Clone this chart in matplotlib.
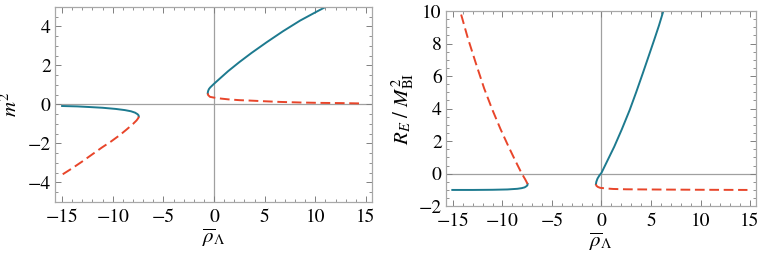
import matplotlib
matplotlib.use("Agg")
import matplotlib.pyplot as plt
from matplotlib.ticker import MultipleLocator

plt.rcParams['font.family'] = ['STIXGeneral', 'DejaVu Serif']
plt.rcParams['mathtext.fontset'] = 'stix'

teal = '#1d7a8f'
red = '#e8452a'
grey = '#a0a0a0'

# left panel: m^2 against rho_bar
m2_right_solid_x = [-0.62, -0.61, -0.57, -0.5, -0.38, -0.2, 0.0, 0.3, 0.6, 1.4, 2.5, 3.7, 5.2, 6.8, 8.5, 10.0, 11.2]
m2_right_solid_y = [0.57, 0.63, 0.71, 0.79, 0.87, 0.96, 1.06, 1.2, 1.34, 1.71, 2.17, 2.64, 3.19, 3.75, 4.3, 4.72, 5.05]
m2_right_dash_x = [-0.62, -0.58, -0.4, 0.0, 0.7, 1.42, 2.5, 3.5, 4.7, 6.5, 8.5, 10.5, 12.5, 14.7]
m2_right_dash_y = [0.57, 0.48, 0.39, 0.35, 0.3, 0.26, 0.22, 0.2, 0.17, 0.13, 0.1, 0.08, 0.07, 0.05]
m2_left_solid_x = [-15.0, -13.5, -12.4, -11.0, -9.7, -8.8, -8.2, -7.8, -7.55, -7.45, -7.43]
m2_left_solid_y = [-0.08, -0.1, -0.13, -0.17, -0.23, -0.29, -0.35, -0.42, -0.5, -0.56, -0.62]
m2_left_dash_x = [-7.43, -7.48, -7.65, -8.0, -8.6, -9.3, -10.2, -11.05, -12.0, -13.0, -14.0, -15.0]
m2_left_dash_y = [-0.62, -0.7, -0.82, -1.0, -1.27, -1.57, -1.91, -2.2, -2.55, -2.92, -3.27, -3.6]

# right panel: R_E / M_BI^2 against rho_bar
re_right_solid_x = [-0.56, -0.52, -0.4, -0.2, 0.0, 0.6, 1.29, 2.05, 2.84, 3.5, 4.16, 4.75, 5.32, 5.8, 6.25]
re_right_solid_y = [-0.65, -0.5, -0.3, -0.1, 0.05, 0.8, 1.66, 2.72, 3.9, 5.0, 6.15, 7.2, 8.22, 9.1, 10.0]
re_right_dash_x = [-0.56, -0.5, -0.35, -0.13, 0.5, 1.19, 2.5, 4.5, 7.0, 10.0, 12.5, 14.74]
re_right_dash_y = [-0.65, -0.75, -0.82, -0.87, -0.91, -0.94, -0.96, -0.97, -0.98, -0.99, -0.995, -1.0]
re_left_solid_x = [-15.06, -13.0, -11.0, -9.5, -8.5, -8.06, -7.75, -7.55, -7.47, -7.46]
re_left_solid_y = [-1.0, -1.0, -0.99, -0.97, -0.93, -0.89, -0.84, -0.76, -0.7, -0.63]
re_left_dash_x = [-7.46, -7.7, -8.06, -8.7, -9.38, -10.2, -11.03, -11.85, -12.69, -13.5, -14.27]
re_left_dash_y = [-0.63, -0.35, 0.02, 0.8, 1.66, 2.75, 3.95, 5.25, 6.8, 8.35, 10.0]

fig = plt.figure(figsize=(7.63, 2.56), dpi=100)
ax1 = fig.add_axes([0.0721, 0.211, 0.4155, 0.762])
ax2 = fig.add_axes([0.5845, 0.1945, 0.4063, 0.7625])


def style(ax, ylo, yhi, ymaj):
    ax.axhline(0, color=grey, lw=0.9, zorder=1)
    ax.axvline(0, color=grey, lw=0.9, zorder=1)
    ax.set_xlim(-15.7, 15.6)
    ax.set_ylim(ylo, yhi)
    ax.xaxis.set_major_locator(MultipleLocator(5))
    ax.xaxis.set_minor_locator(MultipleLocator(1))
    ax.yaxis.set_major_locator(MultipleLocator(ymaj))
    ax.yaxis.set_minor_locator(MultipleLocator(0.5))
    ax.tick_params(which='both', direction='in', top=True, right=True,
                   color='#808080', labelsize=14)
    ax.tick_params(which='major', length=4, width=0.7)
    ax.tick_params(which='minor', length=2.2, width=0.6)
    ax.tick_params(axis='x', pad=5)
    ax.tick_params(axis='y', pad=3)
    for s in ax.spines.values():
        s.set_color('#a8a8a8')
        s.set_linewidth(0.9)
    ax.set_xlabel(r'$\overline{\rho}_\Lambda$', fontsize=15, labelpad=0)


style(ax1, -5, 5, 2)
ax1.plot(m2_right_solid_x, m2_right_solid_y, color=teal, lw=1.4)
ax1.plot(m2_left_solid_x, m2_left_solid_y, color=teal, lw=1.4)
ax1.plot(m2_right_dash_x, m2_right_dash_y, color=red, lw=1.4, dashes=(5, 2.4))
ax1.plot(m2_left_dash_x, m2_left_dash_y, color=red, lw=1.4, dashes=(5, 2.4))
ax1.set_ylabel(r'$m^2$', fontsize=15, labelpad=4)

style(ax2, -2, 10, 2)
ax2.plot(re_right_solid_x, re_right_solid_y, color=teal, lw=1.4)
ax2.plot(re_left_solid_x, re_left_solid_y, color=teal, lw=1.4)
ax2.plot(re_right_dash_x, re_right_dash_y, color=red, lw=1.4, dashes=(5, 2.4))
ax2.plot(re_left_dash_x, re_left_dash_y, color=red, lw=1.4, dashes=(5, 2.4))
ax2.set_ylabel(r'$R_E\ /\ M_{\rm BI}^2$', fontsize=15, labelpad=2)

fig.savefig('out.png', dpi=100)
